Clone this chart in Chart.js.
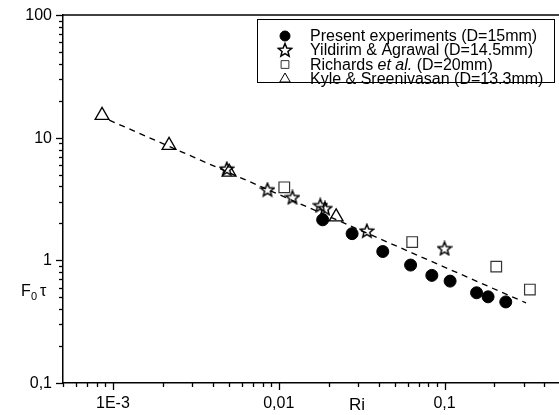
<!DOCTYPE html>
<html>
<head>
<meta charset="utf-8">
<script src="https://cdn.jsdelivr.net/npm/chart.js@4/dist/chart.umd.min.js"></script>
<style>
  body { margin: 0; background: #fff; }
  canvas { display: block; }
</style>
</head>
<body>
<canvas id="chart" width="559" height="415"></canvas>
<script>
// data (Ri, F0*tau)
const riPresent = [0.0184, 0.0277, 0.0424, 0.0624, 0.0838, 0.108, 0.156, 0.183, 0.234];
const fPresent = [2.14, 1.65, 1.18, 0.915, 0.754, 0.677, 0.544, 0.504, 0.458];
const riYildirim = [0.00486, 0.00855, 0.0121, 0.0178, 0.0190, 0.034, 0.100];
const fYildirim = [5.57, 3.77, 3.26, 2.8, 2.65, 1.74, 1.25];
const riRichards = [0.0108, 0.0638, 0.205, 0.327];
const fRichards = [3.94, 1.41, 0.888, 0.578];
const riKyle = [0.00086, 0.00218, 0.00502, 0.0222];
const fKyle = [15.2, 8.65, 5.23, 2.26];
const riFit = [0.00095, 0.31];
const fFit = [13.9, 0.45];

// major tick labels (decimal comma as in the original)
const xTickValues = [0.001, 0.01, 0.1];
const xTickLabels = ["1E-3", "0,01", "0,1"];
const yTickValues = [0.1, 1, 10, 100];
const yTickLabels = ["0,1", "1", "10", "100"];

const FONT = "'Liberation Sans', Arial, sans-serif";

const zip = (xs, ys) => xs.map((x, i) => ({ x: x, y: ys[i] }));

// open five point star used as point style
const starImg = document.createElement("canvas");
starImg.width = 16;
starImg.height = 16;
(() => {
  const c = starImg.getContext("2d");
  c.beginPath();
  for (let i = 0; i < 10; i++) {
    const r = i % 2 === 0 ? 7 : 3.1;
    const a = -Math.PI / 2 + (i * Math.PI) / 5;
    const px = 8 + r * Math.cos(a);
    const py = 8.5 + r * Math.sin(a);
    if (i === 0) c.moveTo(px, py);
    else c.lineTo(px, py);
  }
  c.closePath();
  c.strokeStyle = "#000";
  c.lineWidth = 1.5;
  c.stroke();
})();

// ticks, labels, frame top line, axis titles and legend
const decorPlugin = {
  id: "decor",
  afterDraw(chart) {
    const ctx = chart.ctx;
    const area = chart.chartArea;
    const xs = chart.scales.x;
    const ys = chart.scales.y;
    ctx.save();
    ctx.strokeStyle = "#000";
    ctx.lineWidth = 1.5;

    // top frame line
    ctx.beginPath();
    ctx.moveTo(area.left, area.top);
    ctx.lineTo(area.right, area.top);
    ctx.stroke();

    ctx.lineWidth = 1.3;
    const each = (min, max, fn) => {
      for (let e = Math.floor(Math.log10(min)); e <= Math.ceil(Math.log10(max)); e++) {
        for (let m = 1; m <= 9; m++) {
          const v = m * Math.pow(10, e);
          if (v >= min * 0.9999 && v <= max * 1.0001) fn(v, m === 1);
        }
      }
    };
    each(xs.min, xs.max, (v, major) => {
      const px = Math.round(xs.getPixelForValue(v)) + 0.5;
      ctx.beginPath();
      ctx.moveTo(px, area.bottom);
      ctx.lineTo(px, area.bottom + (major ? 7 : 4));
      ctx.stroke();
    });
    each(ys.min, ys.max, (v, major) => {
      const py = Math.round(ys.getPixelForValue(v)) + 0.5;
      ctx.beginPath();
      ctx.moveTo(area.left, py);
      ctx.lineTo(area.left - (major ? 7 : 4), py);
      ctx.stroke();
    });

    // tick labels
    ctx.fillStyle = "#000";
    ctx.font = "16px " + FONT;
    ctx.textBaseline = "middle";
    ctx.textAlign = "center";
    xTickValues.forEach((v, i) => {
      ctx.fillText(xTickLabels[i], xs.getPixelForValue(v), 404);
    });
    ctx.textAlign = "right";
    yTickValues.forEach((v, i) => {
      ctx.fillText(yTickLabels[i], area.left - 11, ys.getPixelForValue(v) + 0.5);
    });

    // axis titles
    ctx.textBaseline = "alphabetic";
    ctx.textAlign = "left";
    ctx.font = "17px " + FONT;
    ctx.fillText("Ri", 349, 410);
    ctx.font = "16px " + FONT;
    ctx.fillText("F", 21, 296);
    ctx.font = "11px " + FONT;
    ctx.fillText("0", 31, 300);
    ctx.font = "16px " + FONT;
    ctx.fillText("\u03c4", 40, 296);

    // legend box
    ctx.lineWidth = 1;
    ctx.strokeStyle = "#000";
    ctx.strokeRect(257.5, 19.5, 297, 63);
    const rows = [
      { ds: 0, parts: [["Present experiments (D=15mm)", false]] },
      { ds: 1, parts: [["Yildirim & Agrawal (D=14.5mm)", false]] },
      { ds: 2, parts: [["Richards ", false], ["et al.", true], [" (D=20mm)", false]] },
      { ds: 3, parts: [["Kyle & Sreenivasan (D=13.3mm)", false]] },
    ];
    const rowY = [36, 50, 64.5, 79];
    rows.forEach((row, i) => {
      const ds = chart.data.datasets[row.ds];
      ctx.save();
      ctx.fillStyle = ds.backgroundColor;
      ctx.strokeStyle = ds.borderColor;
      ctx.lineWidth = 1;
      Chart.helpers.drawPoint(ctx, {
        pointStyle: ds.pointStyle,
        radius: ds.legendRadius,
        borderWidth: 1,
        rotation: 0,
      }, 285, rowY[i]);
      ctx.restore();
      let tx = 310;
      ctx.fillStyle = "#000";
      ctx.textBaseline = "middle";
      row.parts.forEach(([t, it]) => {
        ctx.font = (it ? "italic " : "") + "16px " + FONT;
        ctx.fillText(t, tx, rowY[i] + 1);
        tx += ctx.measureText(t).width;
      });
    });
    ctx.restore();
  },
};

new Chart(document.getElementById("chart"), {
  type: "scatter",
  data: {
    datasets: [
      {
        label: "Present experiments (D=15mm)",
        data: zip(riPresent, fPresent),
        pointStyle: "circle",
        pointRadius: 6,
        legendRadius: 5,
        backgroundColor: "#000",
        borderColor: "#000",
        borderWidth: 1,
      },
      {
        label: "Yildirim & Agrawal (D=14.5mm)",
        data: zip(riYildirim, fYildirim),
        pointStyle: starImg,
        pointRadius: 7,
        legendRadius: 6,
        backgroundColor: "transparent",
        borderColor: "#000",
        borderWidth: 1,
      },
      {
        label: "Richards et al. (D=20mm)",
        data: zip(riRichards, fRichards),
        pointStyle: "rect",
        pointRadius: 7.5,
        legendRadius: 5.5,
        backgroundColor: "transparent",
        borderColor: "#333",
        borderWidth: 1.2,
      },
      {
        label: "Kyle & Sreenivasan (D=13.3mm)",
        data: zip(riKyle, fKyle),
        pointStyle: "triangle",
        pointRadius: 8,
        legendRadius: 6,
        backgroundColor: "transparent",
        borderColor: "#000",
        borderWidth: 1.3,
      },
      {
        label: "fit",
        data: zip(riFit, fFit),
        showLine: true,
        pointRadius: 0,
        borderColor: "#000",
        borderWidth: 1.3,
        borderDash: [6, 5],
      },
    ],
  },
  options: {
    responsive: false,
    animation: false,
    devicePixelRatio: 1,
    layout: { autoPadding: false, padding: { top: 15, right: 0, left: 0, bottom: 0 } },
    plugins: {
      legend: { display: false },
      tooltip: { enabled: false },
    },
    scales: {
      x: {
        type: "logarithmic",
        min: 0.0005,
        max: 0.49,
        grid: { display: false },
        border: { display: true, color: "#000", width: 1.5 },
        afterFit(scale) {
          scale.height = 32;
          scale.paddingLeft = 0;
          scale.paddingRight = 0;
        },
        // labels are drawn by the decor plugin
        ticks: { autoSkip: false, maxRotation: 0, padding: 4, callback: () => "" },
      },
      y: {
        type: "logarithmic",
        min: 0.1,
        max: 100,
        grid: { display: false },
        border: { display: true, color: "#000", width: 1.5 },
        afterFit(scale) {
          scale.width = 63;
          scale.paddingTop = 0;
          scale.paddingBottom = 0;
        },
        ticks: { autoSkip: false, padding: 4, callback: () => "" },
      },
    },
  },
  plugins: [decorPlugin],
});
</script>
</body>
</html>
